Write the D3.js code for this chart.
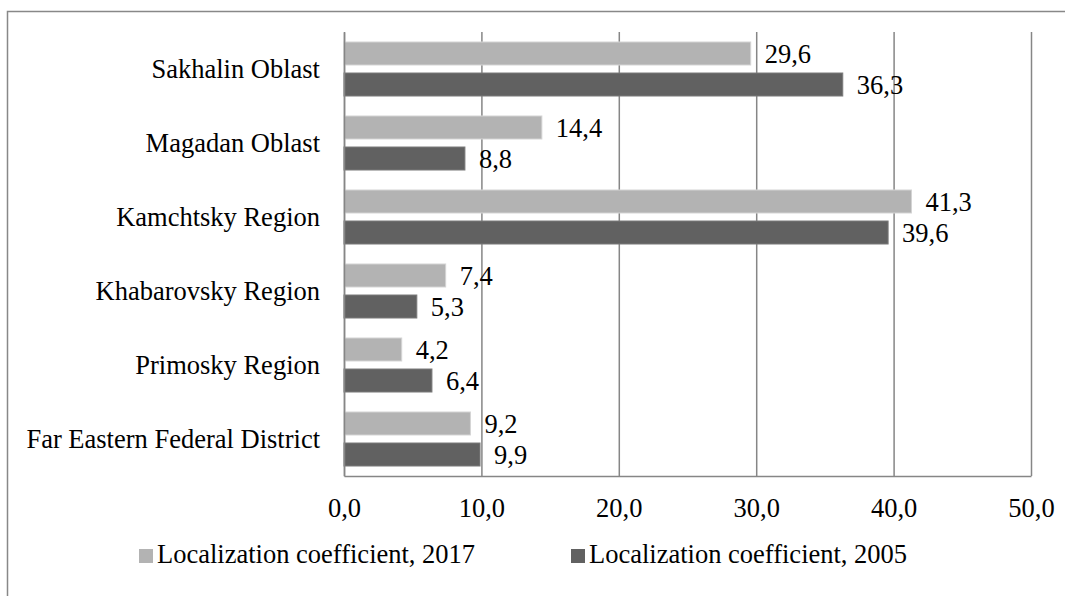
<!DOCTYPE html>
<html>
    <head>
        <meta charset="utf-8">
        <style>
            html, body {
                margin: 0px;
                padding: 0px;
                background-color: #fff;
            }

            svg text {
                font-family: "Liberation Serif", "Times New Roman", serif;
                font-size: 26.5px;
                fill: #000;
            }

            .grid line, .grid .domain {
                stroke: #868686;
                stroke-width: 1.5px;
            }

            .cats .domain {
                stroke: #868686;
                stroke-width: 1.5px;
            }

            .cats line {
                stroke: none;
            }
        </style>
        <script src="https://cdn.jsdelivr.net/npm/d3@7"></script>
    </head>
    <body>
        <div id="main"></div>

        <script>
            var categories = ["Sakhalin Oblast", "Magadan Oblast", "Kamchtsky Region",
                              "Khabarovsky Region", "Primosky Region", "Far Eastern Federal District"];
            var values2017 = [29.6, 14.4, 41.3, 7.4, 4.2, 9.2];
            var values2005 = [36.3, 8.8, 39.6, 5.3, 6.4, 9.9];
            var seriesNames = ["Localization coefficient, 2017", "Localization coefficient, 2005"];
            var seriesKeys = ["2017", "2005"];
            var seriesColors = ["#b3b3b3", "#616161"];
            var seriesStrokes = ["#d4d4d4", "#7a7a7a"];
            var xTicks = [0, 10, 20, 30, 40, 50];

            var width = 1065;
            var height = 596;
            var plot = { left: 344, right: 1031, top: 32, bottom: 476 };

            var ru = d3.formatLocale({ decimal: ",", thousands: " ", grouping: [3], currency: ["", ""] });
            var fmt = ru.format(".1f");

            function chart(svg) {
                var x = d3.scaleLinear().domain([0, 50]).range([plot.left, plot.right]);
                var y = d3.scaleBand().domain(categories).range([plot.top, plot.bottom]);
                var ySub = d3.scaleBand().domain(seriesKeys)
                    .range([0, y.bandwidth()])
                    .paddingInner(0.226)
                    .paddingOuter(0.306);

                // frame (only left and top edges visible)
                svg.append("path")
                    .attr("d", "M7.5," + height + "V11.5H" + width)
                    .attr("fill", "none")
                    .attr("stroke", "#888")
                    .attr("stroke-width", 1.5);

                // vertical grid + bottom axis
                var grid = svg.append("g")
                    .attr("class", "grid")
                    .attr("transform", "translate(0," + plot.bottom + ")")
                    .call(d3.axisBottom(x)
                        .tickValues(xTicks)
                        .tickFormat(fmt)
                        .tickSize(-(plot.bottom - plot.top))
                        .tickSizeOuter(0)
                        .tickPadding(22));
                grid.selectAll("text")
                    .attr("font-family", null)
                    .attr("font-size", null);
                grid.attr("font-family", null).attr("font-size", null);

                var rows = [];
                categories.forEach(function(c, i) {
                    rows.push({ cat: c, key: "2017", s: 0, v: values2017[i] });
                    rows.push({ cat: c, key: "2005", s: 1, v: values2005[i] });
                });

                svg.append("g").selectAll("rect")
                    .data(rows)
                    .enter()
                    .append("rect")
                    .attr("x", x(0))
                    .attr("y", function(d) { return y(d.cat) + ySub(d.key) + 0.5; })
                    .attr("width", function(d) { return x(d.v) - x(0); })
                    .attr("height", ySub.bandwidth() - 1)
                    .attr("fill", function(d) { return seriesColors[d.s]; })
                    .attr("stroke", function(d) { return seriesStrokes[d.s]; })
                    .attr("stroke-width", 1);

                svg.append("g").selectAll("text")
                    .data(rows)
                    .enter()
                    .append("text")
                    .attr("x", function(d) { return x(d.v) + 14; })
                    .attr("y", function(d) { return y(d.cat) + ySub(d.key) + ySub.bandwidth() / 2; })
                    .attr("dy", "0.35em")
                    .text(function(d) { return fmt(d.v); });

                // category axis
                var cats = svg.append("g")
                    .attr("class", "cats")
                    .attr("transform", "translate(" + plot.left + ",0)")
                    .call(d3.axisLeft(y).tickSize(0).tickSizeOuter(0).tickPadding(24));
                cats.attr("font-family", null).attr("font-size", null);
                cats.selectAll("text").attr("dy", "0.35em");

                // legend
                var legendX = [139, 571];
                var legend = svg.append("g").selectAll("g")
                    .data(seriesNames)
                    .enter()
                    .append("g")
                    .attr("transform", function(d, i) { return "translate(" + legendX[i] + ",549)"; });

                legend.append("rect")
                    .attr("width", 14)
                    .attr("height", 14)
                    .attr("fill", function(d, i) { return seriesColors[i]; });

                legend.append("text")
                    .attr("x", 18)
                    .attr("y", 14)
                    .text(function(d) { return d; });
            }

            var svg = d3.select("#main")
                .append("svg")
                .attr("width", width)
                .attr("height", height);

            chart(svg);
        </script>
    </body>
</html>
